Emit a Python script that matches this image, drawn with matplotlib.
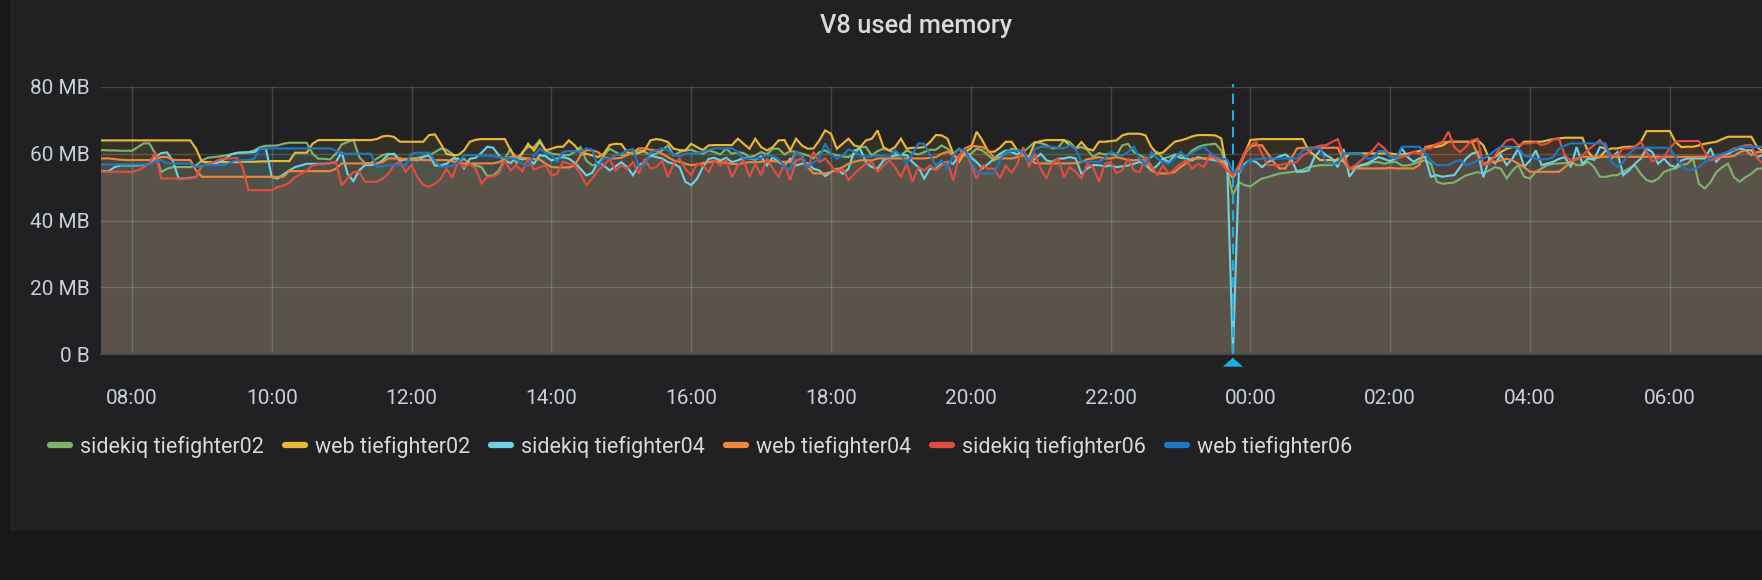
import numpy as np
import matplotlib
matplotlib.use('Agg')
import matplotlib.pyplot as plt
from matplotlib.patches import Rectangle, Polygon
from matplotlib.lines import Line2D
from matplotlib.transforms import blended_transform_factory

plt.rcParams['font.family'] = ['Roboto', 'DejaVu Sans']

# ---------------- data ----------------
title = 'V8 used memory'
series_names = ['sidekiq tiefighter02', 'web tiefighter02', 'sidekiq tiefighter04',
                'web tiefighter04', 'sidekiq tiefighter06', 'web tiefighter06']
series_colors = ['#7EB26D', '#EAB839', '#6ED0E0', '#EF843C', '#E24D42', '#1F78C1']

start_hour = 7.5          # 07:30, samples every 5 minutes
step_minutes = 5
x_tick_hours = [8, 10, 12, 14, 16, 18, 20, 22, 24, 26, 28, 30]
x_tick_labels = ['08:00', '10:00', '12:00', '14:00', '16:00', '18:00',
                 '20:00', '22:00', '00:00', '02:00', '04:00', '06:00']
y_ticks = [0, 20, 40, 60, 80]
y_tick_labels = ['0 B', '20 MB', '40 MB', '60 MB', '80 MB']
annotation_hour = 23.75

# values in MB, one row = one hour (12 samples)
sidekiq_tiefighter02 = [
    61.1, 61.1, 61.0, 61.0, 60.9, 60.9, 60.9, 62, 63.1, 63.1, 60, 54.5,
    55.5, 56, 56, 56, 56, 56.5, 58, 58.8, 59, 59.2, 59.5, 59.8,
    60.2, 60.3, 60.5, 61, 62, 62.4, 62.4, 62.5, 63, 63.3, 63.3, 63.3,
    63.3, 60, 58.5, 58.5, 58.3, 60, 62.8, 63.5, 64.2, 59, 57.2, 57.2,
    58.5, 59.6, 60, 59.8, 58.5, 58.2, 58.6, 58.8, 59.2, 59.5, 60.5, 61.5,
    61.2, 60, 57.5, 58.5, 57, 56.5, 56, 53.3, 53.5, 55, 58.6, 61.5,
    57, 60.5, 62, 62, 64.1, 61, 60, 59.8, 59.6, 59.6, 60.6, 62,
    58, 56.5, 57, 59.5, 61.5, 60.5, 59.6, 59.8, 60.5, 61, 60.6, 59.6,
    60, 61, 62.5, 59.5, 60.5, 61, 61.2, 60.5, 60, 61, 60.5, 59.8,
    61.5, 60, 60.5, 60.2, 59, 59.5, 60.5, 59.8, 61.5, 61.5, 59.8, 60.8,
    60.5, 60, 59.5, 58.6, 60.5, 61, 60, 59.6, 59.2, 59, 60, 62.1,
    62, 59.5, 60.8, 61.5, 61, 60.2, 59.5, 61, 60.2, 59.8, 60.5, 61.2,
    61.2, 62.5, 61.5, 60, 61.5, 59.5, 60, 61.5, 61, 59.5, 58, 59,
    60.2, 61.5, 61.2, 60.5, 62, 63.5, 63.2, 62.6, 61.6, 61.8, 64.1, 63.5,
    61.6, 62, 61.2, 59, 60.2, 59.8, 60.1, 59.5, 62.5, 63, 60.5, 59.6,
    58.6, 59, 60.5, 58.6, 59, 59.8, 59.6, 59, 61, 62, 62.6, 62.8,
    63, 61, 55, 47.6, 51.5, 50.6, 50.2, 51.5, 52.6, 53, 53.6, 54.1,
    54.3, 54.5, 54.8, 55.2, 56, 56.3, 56.6, 56.6, 56.6, 58.6, 57.5, 55.6,
    56.1, 56.5, 56.6, 57.5, 57.5, 57, 57.4, 57.6, 56.5, 56.5, 57, 57.6,
    58, 57, 51.6, 51, 51.2, 51.4, 52.5, 53.5, 54, 54.5, 54.1, 55,
    56, 55.5, 52.6, 55, 56.6, 53.1, 52.6, 54.6, 55.6, 56.6, 57, 57.1,
    57.2, 57.6, 56.6, 56.6, 57.6, 56, 53.1, 53.1, 53.5, 53.6, 54.6, 55.6,
    56.6, 54, 52.1, 51.6, 52.5, 54.5, 55.2, 55.6, 56.6, 57, 58.6, 51,
    49.6, 51.5, 54.5, 56, 57, 53, 51.6, 53, 54, 55.5, 55.6, 55.6,
]

web_tiefighter02 = [
    64, 64, 64, 64, 64, 64, 64, 64, 64, 64, 64, 64,
    64, 64, 64, 64, 64, 61.5, 57.6, 57.5, 57.5, 57.5, 57.5, 57.5,
    57.5, 57.6, 57.6, 57.6, 57.7, 57.7, 57.8, 57.8, 57.8, 57.8, 60.3, 60.3,
    60.3, 63, 64.1, 64.1, 64.1, 64.1, 64.1, 64.1, 64.1, 64.1, 64.1, 64.1,
    64.4, 65.2, 65.4, 65, 63.6, 63.6, 63.6, 63.6, 63.6, 65.6, 65.8, 63,
    60, 59.6, 59.6, 61, 63.6, 64.2, 64.4, 64.4, 64.4, 64.4, 64.4, 61,
    58.8, 60, 63, 61, 63.6, 61, 61.5, 62.1, 62.1, 64, 62.5, 60.4,
    60, 59.5, 59, 60, 62.6, 63, 62.9, 60.5, 60, 60.2, 61, 64,
    64.4, 64.1, 63.5, 61.5, 61.1, 61, 63, 62, 61.1, 62.5, 62.6, 62.6,
    62.6, 62.6, 64.5, 63, 61.5, 64.5, 62, 61, 62, 64, 64.1, 61,
    64.5, 62.5, 61.5, 61.6, 64, 67, 66, 61.5, 63, 64.5, 62.5, 62,
    64, 64.5, 67, 62, 61, 62, 64.5, 61.5, 61.8, 61.8, 62, 63.5,
    65.6, 65.5, 64.5, 60, 57.6, 60.5, 61.6, 66.6, 64, 60.6, 60.6, 61.8,
    63.6, 63.6, 61, 59.5, 59.2, 63.3, 63.8, 64.1, 64.1, 64.1, 64.1, 62.5,
    61.5, 63.5, 61.5, 61, 63.6, 63.6, 63.8, 64, 65.5, 66, 66, 66,
    65.5, 62, 60, 60.4, 62, 63.6, 64, 64.5, 65.2, 65.6, 65.6, 65.6,
    65.5, 64.6, 55, 52.7, 56, 60, 64.1, 64.3, 64.4, 64.4, 64.4, 64.4,
    64.4, 64.4, 64.4, 64.4, 61, 59.5, 58.1, 58.1, 58.1, 58.1, 58, 60.1,
    60.1, 60.1, 60.1, 60.1, 60.1, 60.1, 60.1, 59.8, 59.8, 60, 60.5, 60.8,
    61.5, 62, 62.1, 62.5, 63.6, 63.6, 63.6, 63.6, 63.6, 64.1, 62.5, 58.5,
    59, 60.5, 61.5, 62, 62, 63.6, 63.6, 63.6, 63.6, 64, 64.4, 64.6,
    64.8, 64.8, 64.8, 64.8, 60.5, 58.6, 59, 61, 61.6, 61.6, 62, 62.1,
    62.1, 63.5, 66.8, 66.8, 66.8, 66.8, 66.8, 63.5, 62, 62.1, 62.1, 62.5,
    63, 63.3, 63.6, 64.4, 65.1, 65.1, 65.1, 65.1, 65.1, 62, 60.6, 60.6,
]

sidekiq_tiefighter04 = [
    54.8, 54.8, 54.8, 56, 56.5, 56.5, 56.5, 56.5, 56.6, 57, 59, 60.2,
    60.4, 58, 52.6, 52.6, 52.8, 53, 56.5, 56.8, 57, 57.5, 58.5, 59.8,
    60.3, 60.4, 60.4, 60.5, 61.6, 61.5, 53, 52.6, 53.8, 55, 56, 56.5,
    57, 57, 57, 57, 57.2, 57.5, 60.5, 54, 51.8, 55, 56.6, 56.6,
    57, 58, 59.8, 60, 57.8, 58.5, 58.3, 58, 59, 59.6, 56.5, 56.5,
    57, 58.5, 58.6, 55.6, 58.5, 58.8, 60.3, 62.1, 61.8, 59.5, 58, 57.2,
    59, 58.3, 58.6, 57, 59.6, 59.3, 58, 58.6, 59, 58.5, 57.3, 55.5,
    53.5, 54.3, 57.5, 56.5, 55, 56.2, 57.5, 56, 53.6, 56.5, 57.6, 59.5,
    59, 58.6, 57.5, 57, 56, 51.6, 50.6, 52.5, 56, 58.5, 58.8, 58,
    58.8, 57.5, 58, 58.8, 58.6, 58.2, 59.2, 56.5, 59, 57.5, 56.5, 58.5,
    56.5, 57, 57.2, 55.5, 55, 53.3, 54.5, 55.5, 54, 55.5, 61, 61.5,
    57.5, 56, 55.6, 58, 59, 59.5, 59.6, 59.6, 57.5, 56, 52.6, 55.5,
    55.5, 57, 57.6, 57, 59.5, 61, 59, 57.5, 55.6, 57, 58.5, 60,
    61, 60.5, 59.8, 60.5, 57, 58.5, 60, 58, 57.6, 58.5, 58.6, 59,
    58.6, 54, 55.6, 56.6, 56.6, 56.2, 56.5, 56, 56.2, 56.5, 57, 57.6,
    56.6, 55, 56.5, 58.5, 57.5, 59.5, 58.8, 58.6, 58, 59, 58.6, 58.3,
    58, 57.6, 57.7, 0, 54, 57, 58.2, 57.5, 56, 57.5, 58.4, 59.2,
    59.8, 58.5, 54.6, 54.6, 55, 59, 61.1, 59.5, 58.6, 56, 61.4, 53.1,
    55.6, 56.6, 57.1, 58, 59, 58.4, 57.8, 58.6, 61.6, 59, 57.6, 58.6,
    59.1, 53.1, 53.6, 53.1, 53.4, 53.6, 56, 58.5, 60, 60.6, 53, 58.5,
    57.1, 59.6, 56.6, 58.6, 61.6, 56.1, 58, 61, 56.6, 57.1, 57.6, 58.5,
    59, 56, 62, 57, 58.6, 58.2, 62, 61.6, 58.6, 60.5, 53.6, 55,
    57, 58.5, 61.6, 60.5, 57, 58.6, 56.6, 56, 58, 58.6, 58.6, 58.6,
    58.6, 61.6, 57.6, 59.6, 60, 61, 61.6, 61.1, 61, 59, 59.6, 60,
]

web_tiefighter04 = [
    58.6, 58.6, 58.6, 58.4, 58.2, 58.1, 58.1, 58.1, 58.1, 58.1, 58.3, 59,
    59, 58.2, 58.1, 58.1, 58.1, 55, 53.1, 53.1, 53.1, 53.1, 53.1, 53.1,
    53.1, 53.1, 53.1, 53.1, 53.1, 53.1, 53.1, 53.1, 53.1, 54.8, 54.8, 54.8,
    54.8, 54.8, 54.8, 54.8, 54.8, 55.5, 57.1, 57.1, 57.1, 57.1, 57.1, 57.1,
    57.1, 57.5, 58.6, 58.6, 58.6, 58.4, 58.2, 58.2, 58.1, 58.1, 58.1, 58.1,
    58.1, 57.8, 57.3, 57.1, 57.1, 57.1, 57.1, 57.1, 57.1, 57.5, 58.5, 59,
    59.1, 58.8, 58.6, 58.4, 58.3, 57, 56, 55.9, 55.9, 55.9, 56.5, 59.5,
    61.1, 61, 60.5, 59, 58.6, 58.6, 58.8, 59.6, 60.5, 61.6, 61.6, 61.2,
    61, 60, 59, 58, 57.6, 57, 56.6, 56.8, 57.2, 57.5, 57.8, 57.5,
    57.2, 57, 56.8, 57.2, 57.5, 57.4, 57.6, 57.8, 57.8, 57.6, 57.6, 57.5,
    60.6, 59.5, 56, 54.1, 54.1, 54.1, 54.5, 55.3, 56, 57, 57.6, 58,
    58.1, 58, 58.6, 58.6, 58.6, 58.6, 58.6, 58.6, 58.6, 58.6, 58.6, 58.8,
    59, 60, 60.6, 59.6, 58, 61.6, 62.4, 62.2, 62, 61, 58.8, 58.6,
    58.6, 58.6, 59, 59.6, 59, 57.2, 57.1, 57.1, 57.1, 57.1, 57.1, 57.1,
    57.2, 57.5, 58.4, 58.6, 59, 58.6, 58.6, 59, 58.6, 58.2, 58, 58.3,
    58, 55, 54.1, 54.1, 54.1, 54.5, 56, 57.2, 58.6, 58.6, 58.6, 58.6,
    58.6, 58.2, 56, 53, 55.5, 60, 62.1, 62.6, 62.5, 60, 57.5, 55.6,
    55.6, 58.5, 61.6, 61.8, 61.8, 61.8, 61.8, 61.8, 61.8, 61.8, 58, 55.6,
    55.6, 55.6, 55.6, 55.6, 55.6, 55.6, 55.8, 55.6, 55.6, 55.6, 55.6, 56.6,
    62, 62.4, 62.8, 63.4, 63.6, 63.6, 63.6, 63.6, 63.6, 60, 57, 57.6,
    57.6, 58, 58.5, 58, 57, 56, 54.6, 54.6, 54.6, 54.6, 54.6, 54.6,
    56, 57.5, 58.6, 59.1, 59.1, 59.1, 59.1, 59.1, 59.1, 59.1, 59.1, 59.1,
    59.1, 59.1, 59.1, 59.1, 59.1, 59.1, 59.1, 59.1, 59.1, 59.1, 59.1, 59.1,
    59.1, 59.1, 59.1, 59.1, 59.1, 59.3, 60.5, 61, 59.6, 60.5, 60.5, 60.5,
]

sidekiq_tiefighter06 = [
    54.6, 54.6, 54.6, 54.6, 54.6, 54.6, 54.6, 55, 56, 57, 60.5, 52.6,
    52.6, 52.6, 52.6, 52.6, 52.6, 53, 56.5, 57, 57.5, 58.3, 58.6, 58.6,
    58.8, 56, 49.1, 49.1, 49.1, 49.1, 49.1, 50, 50.5, 51.3, 53, 54,
    55, 56.5, 56.8, 56.8, 57.2, 57.6, 50.5, 52.6, 54.5, 54.6, 51.6, 51.6,
    51.6, 52.5, 54, 56.6, 57.6, 54.6, 56.6, 53, 50.6, 50.1, 51, 52.5,
    55.5, 52.8, 57.8, 56, 57, 55.5, 51.1, 53, 53.2, 54, 58, 55,
    56.5, 54.8, 58.5, 55.3, 56, 56.5, 53.5, 54, 57.6, 57, 56.5, 54,
    50.6, 52.5, 55, 56.5, 58.5, 55, 56.5, 55.5, 57.5, 54, 58.5, 55.5,
    56, 58, 53, 57, 58.5, 55.5, 53.6, 57, 56.6, 54.5, 58, 56.5,
    58.2, 53, 56.5, 58, 53.1, 57, 53.5, 58.6, 55.6, 53.1, 57, 52.1,
    58, 58.6, 55.6, 60.6, 57.5, 58.6, 56.5, 54.5, 55.5, 52.1, 54, 55.6,
    57, 57.5, 54.6, 56.5, 58, 56, 53, 57, 51.6, 56, 55, 56.5,
    55, 56.5, 57.5, 52, 59.6, 61.1, 57, 52.5, 56.5, 55.5, 55.6, 52.6,
    56.5, 54.3, 57, 62, 56, 60, 55.5, 52.6, 57.2, 58.5, 53, 56,
    54.6, 52.6, 57, 56, 51.6, 57, 57.5, 54.2, 55, 58.6, 55, 54.5,
    59, 56.5, 53.6, 56.5, 54, 55.5, 57, 58, 55.5, 57, 56, 59.6,
    58.6, 57, 55, 53.6, 56.5, 60.5, 62.6, 63.5, 60, 56.6, 56.6, 56.6,
    57, 57, 57.6, 59.5, 60.5, 62, 62.4, 62.6, 63.5, 64.4, 59.5, 55.6,
    56.5, 58, 59.5, 61, 63.1, 61.6, 59.5, 58.6, 59, 59.5, 60.6, 60,
    61.6, 61.6, 63, 63.6, 66.6, 62, 60.5, 62.1, 64, 64.5, 56.6, 57,
    59.5, 62, 64, 64.4, 62.5, 63.1, 63.1, 63.5, 62.6, 63.1, 64.3, 64.4,
    59.5, 58, 58.2, 59.5, 61.2, 62.6, 64.1, 62, 59.3, 59.6, 61.6, 61.6,
    62, 63.6, 60.6, 57.6, 58.6, 59.1, 61.6, 63.6, 63.8, 63.8, 63.8, 63.8,
    60.6, 58.1, 58.6, 59.6, 60.6, 61.6, 62, 62.6, 62.6, 58.6, 57.1, 58.6,
]

web_tiefighter06 = [
    56.8, 56.8, 56.8, 56.8, 56.8, 56.8, 56.8, 56.8, 56.8, 56.8, 57.5, 58.1,
    57.1, 57.1, 57.1, 57.1, 57.1, 56, 56.6, 56.6, 56.6, 56.6, 56.6, 57.5,
    58.1, 58.1, 58.1, 58.6, 61.6, 61.6, 61.6, 61.6, 61.6, 61.6, 61.6, 61.6,
    61.6, 61.6, 61.6, 61.6, 61.6, 61, 60, 60, 60, 60, 60, 60,
    56.1, 56.3, 56.5, 56.6, 56.6, 56.6, 60.1, 60.3, 60.3, 60.3, 58, 56.1,
    56.1, 56.4, 57.5, 59.6, 59.6, 59.6, 59.5, 59.4, 59.2, 59, 58.8, 58.6,
    58.4, 57, 56.5, 59.5, 61.5, 60.2, 59.6, 57.6, 60.5, 60.8, 60.8, 60.6,
    61.6, 61.2, 56.1, 58.6, 58.6, 59.6, 60, 61, 61.4, 56.1, 56.5, 60.5,
    61, 61.6, 61, 59.8, 59.2, 60, 60.1, 60.1, 60.6, 61.2, 61.6, 61.6,
    61.6, 61.6, 60.5, 58.6, 58.6, 58.6, 58.7, 59.5, 59.2, 58.5, 56, 55.1,
    60.6, 59.5, 56, 57.5, 58.5, 63.1, 60, 58.5, 59.6, 61.3, 60.6, 59.5,
    59.1, 59.2, 59.5, 59.3, 59, 61, 59.5, 57, 60, 63.1, 63, 59.6,
    56.5, 58, 55.6, 59.5, 61.3, 61.2, 58, 54.6, 54.1, 54.1, 54.1, 58,
    60.6, 60.8, 61, 60.5, 57.6, 61.4, 62.1, 62.1, 62, 61.8, 61.6, 62.5,
    61.5, 57.6, 57.6, 57.6, 57.6, 58.6, 60.5, 60, 59.5, 60.5, 62.1, 58.5,
    56.5, 60.5, 58.6, 57.6, 57, 58.6, 60.6, 59, 60.3, 61.3, 62.1, 60.5,
    59.2, 58.5, 58.3, 54.6, 54.6, 56.5, 58.1, 58.4, 58.5, 58.6, 58.6, 58.6,
    58.6, 58.6, 58.6, 61, 61.6, 61.6, 61.6, 57.1, 57.1, 57.1, 60.1, 60.1,
    60.1, 60, 58.6, 58.6, 60.8, 60.8, 59, 58.6, 62.1, 62.1, 62.1, 62.1,
    60, 58, 56.6, 56.6, 56.6, 57.6, 58.1, 56.6, 57.1, 58.1, 58.6, 59.6,
    61, 62.1, 62.1, 62.1, 61.6, 59.5, 59, 58.5, 58.3, 58.4, 59, 61.6,
    62.5, 63.1, 63.1, 63.1, 63.1, 63.1, 63.1, 63.1, 57.5, 56.1, 57.5, 60,
    61.6, 61.8, 61.8, 61.8, 61.8, 61.8, 61.6, 59, 56.6, 55.1, 55.3, 56,
    57.5, 58.6, 59.5, 60, 60.6, 61.2, 62.1, 62.1, 62.1, 62.1, 62.1, 62.1,
]

series_values = [sidekiq_tiefighter02, web_tiefighter02, sidekiq_tiefighter04,
                 web_tiefighter04, sidekiq_tiefighter06, web_tiefighter06]

# ---------------- figure ----------------
W, H = 1762, 580
fig = plt.figure(figsize=(W / 100, H / 100), dpi=100, facecolor='#161719')

# panel background
panel = Rectangle((10 / W, (H - 531) / H), 1.2, 1.2, transform=fig.transFigure,
                  facecolor='#212124', edgecolor='none', zorder=0)
fig.add_artist(panel)

ax_left, ax_right, ax_top, ax_bottom = 101, 1762, 87, 354
ax = fig.add_axes([ax_left / W, (H - ax_bottom) / H,
                   (ax_right - ax_left) / W, (ax_bottom - ax_top) / H])
ax.patch.set_alpha(0)

px_per_hour = 69.9
x_min = 8 + (ax_left - 132) / px_per_hour
x_max = 8 + (ax_right - 132) / px_per_hour

for name, color, vals in zip(series_names, series_colors, series_values):
    v = np.asarray(vals, dtype=float)
    t = start_hour + np.arange(len(v)) * step_minutes / 60.0
    ax.fill_between(t, 0, v, color=color, alpha=0.1, linewidth=0, zorder=1)
    ax.plot(t, v, color=color, linewidth=1.55, zorder=3, solid_joinstyle='miter')

ax.set_xlim(x_min, x_max)
ax.set_ylim(0, 80)
ax.set_xticks(x_tick_hours)
ax.set_xticklabels(x_tick_labels)
ax.set_yticks(y_ticks)
ax.set_yticklabels(y_tick_labels)
ax.tick_params(axis='both', length=0, labelsize=15, colors='#c7d0d9')
ax.tick_params(axis='x', pad=25)
ax.tick_params(axis='y', pad=8)
for s in ax.spines.values():
    s.set_visible(False)
ax.set_axisbelow(False)
ax.grid(True, color='white', alpha=0.17, linewidth=1.0)
ax.axhline(0, color='#4a4b50', linewidth=1.6, zorder=2.6, clip_on=False)

# annotation marker
ann_color = '#1cb0e0'
ax.plot([annotation_hour, annotation_hour], [0, 80.9], color=ann_color,
        linewidth=1.5, linestyle=(0, (5, 3)), zorder=4, clip_on=False)
trans = blended_transform_factory(ax.transData, ax.transAxes)
hw = 10 / px_per_hour
ah = ax_bottom - ax_top
tri = Polygon([[annotation_hour - hw, (ax_bottom - 366.7) / ah],
               [annotation_hour + hw, (ax_bottom - 366.7) / ah],
               [annotation_hour, (ax_bottom - 357.7) / ah]],
              closed=True, transform=trans, facecolor=ann_color,
              edgecolor='none', clip_on=False, zorder=5)
ax.add_patch(tri)

# title
fig.text(916 / W, 1 - 25.5 / H, title, ha='center', va='center',
         fontsize=18.3, fontweight='medium', color='#d8d9da')

# legend
handles = [Line2D([], [], color=c, linewidth=4.5, solid_capstyle='round') for c in series_colors]
fig.legend(handles, series_names, loc='center left',
           bbox_to_anchor=(50 / W, 1 - 447 / H), bbox_transform=fig.transFigure,
           ncol=6, frameon=False, fontsize=15.5, labelcolor='#d8d9da',
           handlelength=0.95, handletextpad=0.45, columnspacing=0.97,
           borderpad=0, borderaxespad=0)

fig.savefig('out.png', dpi=100, facecolor=fig.get_facecolor())
